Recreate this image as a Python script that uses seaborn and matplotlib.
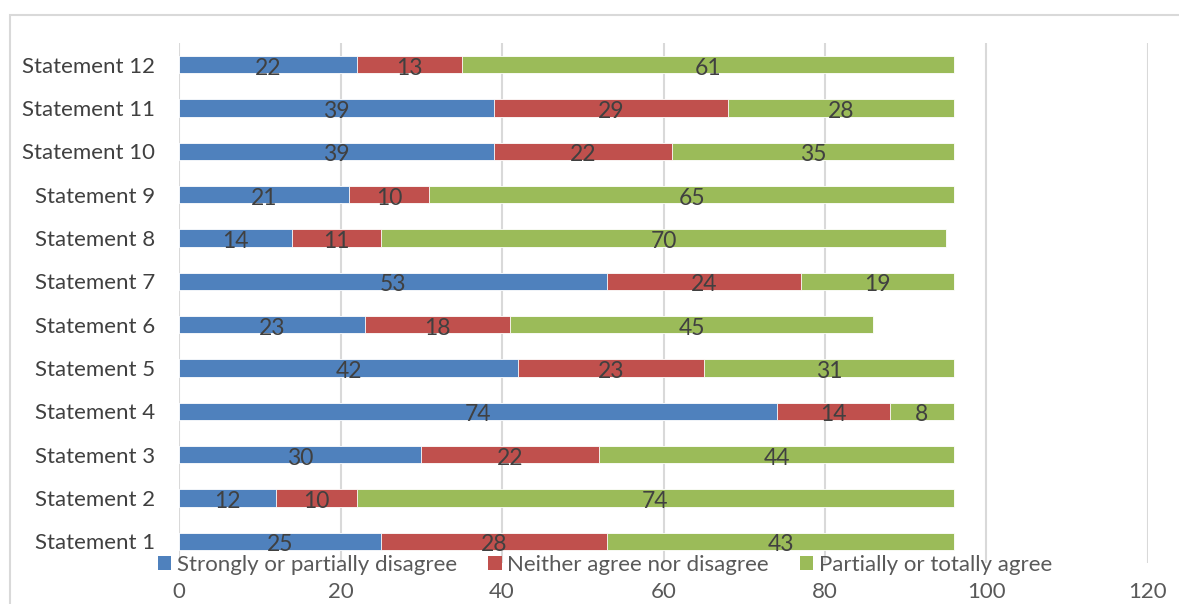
import matplotlib
matplotlib.use("Agg")
import matplotlib.pyplot as plt
from matplotlib.patches import Rectangle, Patch
import numpy as np
import pandas as pd
import seaborn as sns

statements = [f"Statement {i}" for i in range(1, 13)]
disagree = [25, 12, 30, 74, 42, 23, 53, 14, 21, 39, 39, 22]
neutral = [28, 10, 22, 14, 23, 18, 24, 11, 10, 22, 29, 13]
agree = [43, 74, 44, 8, 31, 45, 19, 70, 65, 35, 28, 61]
series_names = ["Strongly or partially disagree", "Neither agree nor disagree",
                "Partially or totally agree"]
colors = ["#4F81BD", "#C0504D", "#9BBB59"]
x_ticks = [0, 20, 40, 60, 80, 100, 120]

sns.set_theme(style="white")
plt.rcParams["font.family"] = ["Lato", "DejaVu Sans"]

df = pd.DataFrame({"statement": statements, "d": disagree, "n": neutral, "a": agree})
df["c1"] = df["d"]
df["c2"] = df["d"] + df["n"]
df["c3"] = df["d"] + df["n"] + df["a"]
order = statements[::-1]

fig = plt.figure(figsize=(11.79, 6.04), dpi=100)
W, H = 1179, 604
ax = fig.add_axes([179 / W, 1 - 563 / H, (1148 - 179) / W, (563 - 43) / H])

# chart frame
fig.patches.append(Rectangle((10 / W, -0.1), 1.2, 1 - 15 / H + 0.1, transform=fig.transFigure,
                             fill=False, edgecolor="#D9D9D9", linewidth=1.5, zorder=0))

# stacked bars: draw cumulative totals from the largest down
for col, color in zip(["c3", "c2", "c1"], colors[::-1]):
    sns.barplot(data=df, x=col, y="statement", order=order, color=color,
                width=0.4, edgecolor="white", linewidth=0.6, saturation=1, ax=ax, zorder=3)

# segment labels
ypos = {s: i for i, s in enumerate(order)}
for _, r in df.iterrows():
    y = ypos[r["statement"]]
    starts = [0, r["c1"], r["c2"]]
    for s, v in zip(starts, [r["d"], r["n"], r["a"]]):
        ax.text(s + v / 2, y + 0.08, f"{v}", ha="center", va="center",
                fontsize=16.5, color="#404040", zorder=5)

ax.set_xlim(0, 120)
ax.set_ylim(11.5, -0.5)
ax.set_xticks(x_ticks)
ax.set_xlabel("")
ax.set_ylabel("")
ax.grid(axis="x", color="#D9D9D9", linewidth=1.5, zorder=0)
ax.set_axisbelow(True)
for sp in ax.spines.values():
    sp.set_visible(False)
ax.tick_params(axis="both", length=0, labelsize=16)
ax.tick_params(axis="x", pad=14, colors="#595959")
ax.tick_params(axis="y", pad=17, colors="#404040")

handles = [Patch(facecolor=c, edgecolor="none") for c in colors]
fig.legend(handles, series_names, loc="center", bbox_to_anchor=(605 / W, 1 - 565 / H),
           ncol=3, frameon=False, fontsize=16, handlelength=0.6, handleheight=0.6,
           handletextpad=0.25, columnspacing=1.4, labelcolor="#595959", borderpad=0)

fig.savefig("out.png", dpi=100)
